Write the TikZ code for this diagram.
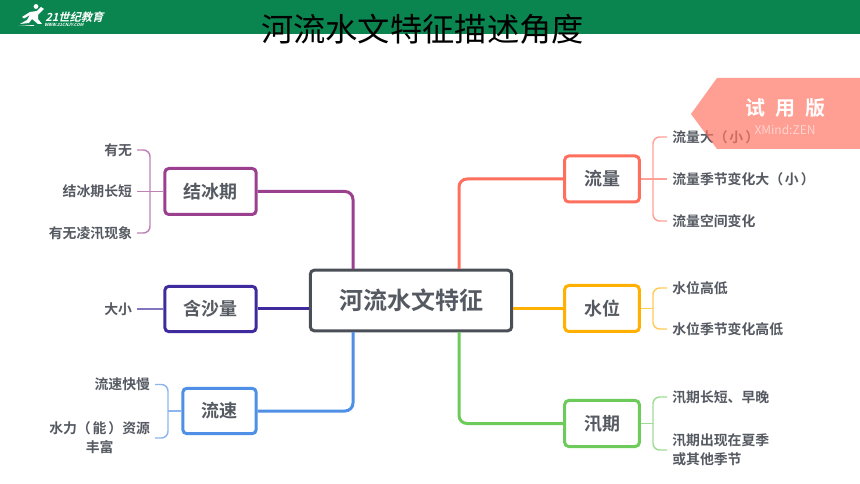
\documentclass[tikz,border=0pt]{standalone}
\usepackage{fontspec}
\setmainfont{Noto Sans CJK SC}
\newfontfamily\cjkfake{Noto Sans CJK SC Bold}
\newfontfamily\cjkslant[FakeSlant=0.25]{Noto Sans CJK SC Bold}
\newcommand{\parenword}[1]{（\kern.12em#1\kern.15em）}
\newcommand{\lowered}[1]{\raisebox{-0.8pt}{#1}}
\usetikzlibrary{calc}
\definecolor{band}{HTML}{0A8550}
\definecolor{ink}{HTML}{555A62}
\definecolor{cCen}{HTML}{4A4F57}
\definecolor{cLiu}{HTML}{FF6F5E}
\definecolor{cShui}{HTML}{FFB000}
\definecolor{cXun}{HTML}{6CCB5B}
\definecolor{cSu}{HTML}{4F8FE6}
\definecolor{cSha}{HTML}{3F2A9E}
\definecolor{cBing}{HTML}{9B3F8F}
\definecolor{wm}{HTML}{FF7666}
\tikzset{
  box/.style={draw=#1,line width=2.25pt,rounded corners=3pt,fill=white,text=ink,inner sep=0pt,
    font=\cjkfake\fontsize{13.5}{16}\selectfont,anchor=center},
  hub/.style={draw=cCen,line width=2.25pt,rounded corners=3pt,fill=white,text=ink,inner sep=0pt,
    font=\cjkfake\fontsize{18}{22}\selectfont,anchor=center,minimum width=151pt,minimum height=45.5pt},
  leafr/.style={anchor=west,text=ink,inner xsep=3.75pt,inner ysep=0pt,align=left,
    font=\cjkfake\fontsize{10.4}{14}\selectfont},
  leafl/.style={anchor=east,text=ink,inner xsep=3.5pt,inner ysep=0pt,align=center,
    font=\cjkfake\fontsize{10.4}{14}\selectfont},
  main/.style={draw=#1,line width=2.25pt,rounded corners=6pt},
  twig/.style={draw=#1!65,line width=1.1pt,rounded corners=5pt},
}
\begin{document}
\begin{tikzpicture}[x=0.75pt,y=-0.75pt]
\useasboundingbox (0,0) rectangle (860,484);
% header
\fill[white] (0,0) rectangle (860,484);
\fill[band] (0,0) rectangle (860,34);
% logo
\fill[white] (36,6.5) circle (2.4);
\fill[white] (22,17) -- (30,12) -- (37,11) -- (41,7) -- (44,9) -- (38,15) -- (38,19) -- (42,24) -- (38,24) -- (32,19) -- (29,23) -- (20,24) -- (27,20) -- (30,15) -- (24,18.5) -- cycle;
\fill[white] (18,26) -- (34,25) -- (34,25.8) -- cycle;
\node[text=white,inner sep=0pt,anchor=west,font=\cjkslant\fontsize{8.4}{9}\selectfont] (logotext) at (45,17.5) {21世纪教育};
\node[text=white,inner sep=0pt,anchor=west,font=\cjkslant\fontsize{3.2}{4}\selectfont] (logourl) at (44,25) {WWW.21CNJY.COM};
% title
\node[text=black,inner sep=0pt,font=\fontsize{24.2}{28}\selectfont] (title) at (422.5,29) {河流水文特征描述角度};
% hub and branches
\node[hub] (hub) at (411,300.5) {\raisebox{-1.2pt}{河流水文特征}};
\node[box=cLiu,minimum width=56pt,minimum height=34.5pt] (liu) at (602,179) {\lowered{流量}};
\node[box=cShui,minimum width=56pt,minimum height=34.5pt] (shui) at (602,308.5) {\lowered{水位}};
\node[box=cXun,minimum width=56pt,minimum height=34.5pt] (xun) at (602,423.5) {\lowered{汛期}};
\node[box=cBing,minimum width=68.5pt,minimum height=34.5pt] (bing) at (210.5,191.5) {\lowered{结冰期}};
\node[box=cSha,minimum width=68.5pt,minimum height=34pt] (sha) at (210.5,309) {\lowered{含沙量}};
\node[box=cSu,minimum width=55pt,minimum height=34pt] (su) at (219.5,411) {\lowered{流速}};
% corner helpers on the hub edge
\coordinate (hubNE) at (459,269);
\coordinate (hubNW) at (353,269);
\coordinate (hubSE) at (459,332);
\coordinate (hubSW) at (353,332);
\draw[main=cLiu] (liu.west) -| (hubNE);
\draw[main=cXun] (xun.west) -| (hubSE);
\draw[main=cBing] (bing.east) -| (hubNW);
\draw[main=cSu] (su.east) -| (hubSW);
\draw[main=cSha] (sha.east) -- (hub.west |- sha.east);
\draw[main=cShui] (shui.west) -- (hub.east |- shui.west);
% leaves right
\node[leafr] (l1) at (667,137) {流量大\parenword{小}};
\node[leafr] (l2) at (667,179) {流量季节变化大\parenword{小}};
\node[leafr] (l3) at (667,221) {流量空间变化};
\node[leafr] (s1) at (667,288) {水位高低};
\node[leafr] (s2) at (667,329) {水位季节变化高低};
\node[leafr] (x1) at (667,397) {汛期长短、早晚};
\node[leafr] (x2) at (667,450) {汛期出现在夏季\\或其他季节};
% leaves left
\node[leafl] (b1) at (137,150) {有无};
\node[leafl] (b2) at (137,191.5) {结冰期长短};
\node[leafl] (b3) at (137,233) {有无凌汛现象};
\node[leafl] (h1) at (137,309) {大小};
\node[leafl] (v1) at (155,384.5) {流速快慢};
\node[leafl] (v2) at (155,438) {水力\parenword{能}资源\\丰富};
% brackets
\coordinate (kL) at (653,179);
\coordinate (kS) at (653,308.5);
\coordinate (kX) at (653,423.5);
\coordinate (kB) at (150,191.5);
\coordinate (kV) at (168,411);
\draw[twig=cLiu] (l1.west) -| (kL) |- (l3.west);
\draw[twig=cLiu] (liu.east) -- (l2.west);
\draw[twig=cShui] (s1.west) -| (kS) |- (s2.west);
\draw[twig=cShui] (shui.east) -- (kS);
\draw[twig=cXun] (x1.west) -| (kX) |- (x2.west);
\draw[twig=cXun] (xun.east) -- (kX);
\draw[twig=cBing] (b1.east) -| (kB) |- (b3.east);
\draw[twig=cBing] (bing.west) -- (b2.east);
\draw[twig=cSha] (sha.west) -- (h1.east);
\draw[twig=cSu] (v1.east) -| (kV) |- (v2.east);
\draw[twig=cSu] (su.west) -- (kV);
% watermark
\fill[wm,opacity=0.7] (691,114) -- (717,78) -- (860,78) -- (860,149) -- (717,149) -- cycle;
\node[text=white,inner sep=0pt,font=\cjkfake\fontsize{15}{18}\selectfont] (wm1) at (785,108) {试\,\,\,用\,\,\,版};
\node[text=white,opacity=.55,inner sep=0pt,font=\fontsize{9}{10}\selectfont] (wm2) at (785,130) {XMind:ZEN};
\end{tikzpicture}
\end{document}
